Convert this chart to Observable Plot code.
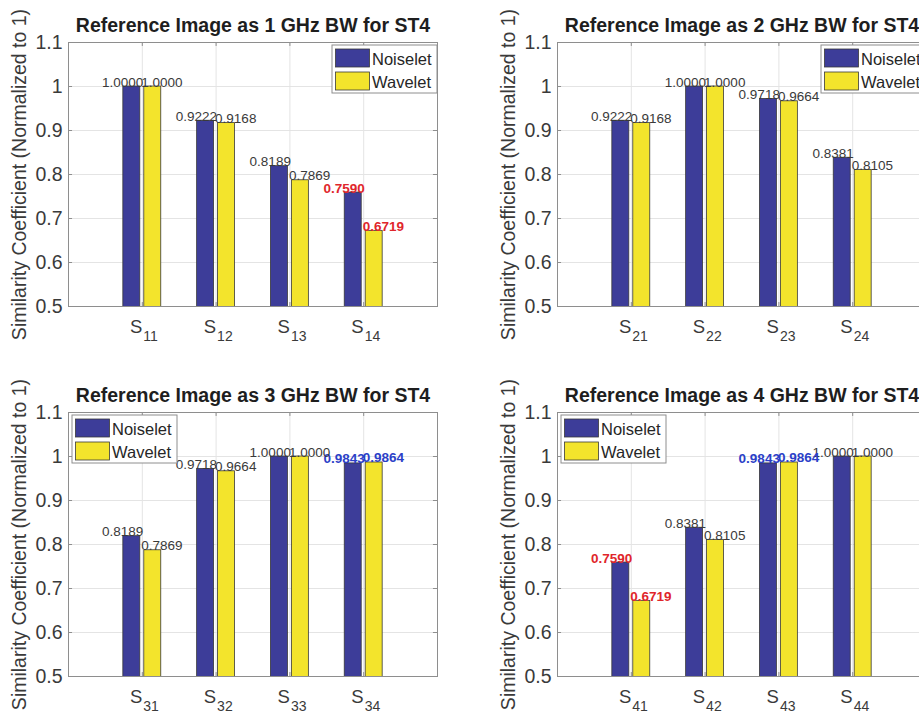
<!DOCTYPE html>
<html>
<head>
<meta charset="utf-8">
<script src="https://cdn.jsdelivr.net/npm/d3@7"></script>
<script src="https://cdn.jsdelivr.net/npm/@observablehq/plot@0.6"></script>
<style>
  html, body { margin: 0; padding: 0; background: #fff; }
  #page { position: relative; width: 919px; height: 719px; overflow: hidden; background: #fff; }
  .panel { position: absolute; width: 460px; height: 360px; }
</style>
</head>
<body>
<div id="page"></div>
<script>
// Similarity coefficients (normalized to 1) for each reference bandwidth
const series = ["Noiselet", "Wavelet"];
const seriesColors = ["#3d3d99", "#f3e42c"];
const titles = [
  "Reference Image as 1 GHz BW for ST4",
  "Reference Image as 2 GHz BW for ST4",
  "Reference Image as 3 GHz BW for ST4",
  "Reference Image as 4 GHz BW for ST4"
];
const subs1 = ["11", "12", "13", "14"];
const subs2 = ["21", "22", "23", "24"];
const subs3 = ["31", "32", "33", "34"];
const subs4 = ["41", "42", "43", "44"];

const noiselet1 = [1.0000, 0.9222, 0.8189, 0.7590];
const wavelet1  = [1.0000, 0.9168, 0.7869, 0.6719];
const noiselet2 = [0.9222, 1.0000, 0.9718, 0.8381];
const wavelet2  = [0.9168, 1.0000, 0.9664, 0.8105];
const noiselet3 = [0.8189, 0.9718, 1.0000, 0.9843];
const wavelet3  = [0.7869, 0.9664, 1.0000, 0.9864];
const noiselet4 = [0.7590, 0.8381, 0.9843, 1.0000];
const wavelet4  = [0.6719, 0.8105, 0.9864, 1.0000];

// value-label emphasis per pair: "low" (red), "high" (blue) or none
const emphasis1 = [null, null, null, "low"];
const emphasis2 = [null, null, null, null];
const emphasis3 = [null, null, null, "high"];
const emphasis4 = ["low", null, "high", null];

const yTicks = [0.5, 0.6, 0.7, 0.8, 0.9, 1.0, 1.1];
const yLabel = "Similarity Coefficient (Normalized to 1)";
const legendCorners = ["ne", "ne", "nw", "nw"];

const FONT = '"Liberation Sans", Arial, Helvetica, sans-serif';
const TEXT = "#3a3a3a";
const AXIS = "#8e8e8e";
const GRID = "#e4e4e4";
const emphColors = {low: "#e0262b", high: "#2b3fc8"};

const W = 460, H = 360;
const M = {top: 42, right: 23, bottom: 54, left: 68};

function panel({title, subs, noiselet, wavelet, emphasis, corner}) {
  const rows = [];
  subs.forEach((s, i) => {
    rows.push({cat: i + 1, sub: s, series: "Noiselet", value: noiselet[i], emph: emphasis[i]});
    rows.push({cat: i + 1, sub: s, series: "Wavelet", value: wavelet[i], emph: emphasis[i]});
  });
  const cats = subs.map((s, i) => ({cat: i + 1, sub: s}));
  const isN = d => d.series === "Noiselet";

  // value labels: Noiselet ends at the group centre, Wavelet starts there
  const labelMarks = [];
  for (const s of series) {
    for (const e of [null, "low", "high"]) {
      const data = rows.filter(d => d.series === s && d.emph === e);
      if (!data.length) continue;
      labelMarks.push(Plot.text(data, {
        x: "cat", y: "value", text: d => d.value.toFixed(4),
        textAnchor: s === "Noiselet" ? "end" : "start",
        lineAnchor: "bottom",
        dx: s === "Noiselet" ? 1 : -1,
        fontSize: 13.5,
        fontWeight: e ? "bold" : "normal",
        fill: e ? emphColors[e] : TEXT
      }));
    }
  }

  const chart = Plot.plot({
    width: W, height: H,
    marginTop: M.top, marginRight: M.right, marginBottom: M.bottom, marginLeft: M.left,
    style: {fontFamily: FONT, background: "#fff", color: TEXT, overflow: "visible"},
    x: {domain: [0, 5], axis: null},
    y: {domain: [0.5, 1.1], axis: null},
    marks: [
      Plot.gridY(yTicks, {stroke: GRID, strokeOpacity: 1}),
      Plot.gridX(cats.map(d => d.cat), {stroke: GRID, strokeOpacity: 1}),
      Plot.rectY(rows, {
        x1: d => isN(d) ? d.cat - 0.257 : d.cat + 0.027,
        x2: d => isN(d) ? d.cat - 0.027 : d.cat + 0.257,
        y1: 0, y2: "value",
        fill: d => isN(d) ? seriesColors[0] : seriesColors[1],
        stroke: "#3a3a3a", strokeWidth: 0.8,
        clip: true
      }),
      // inward ticks on all four sides
      Plot.ruleY(yTicks, {x1: 0, x2: 0.055, stroke: AXIS}),
      Plot.ruleY(yTicks, {x1: 4.945, x2: 5, stroke: AXIS}),
      Plot.ruleX(cats, {x: "cat", y1: 1.1, y2: 1.091, stroke: AXIS}),
      Plot.ruleX(cats, {x: "cat", y1: 0.5, y2: 0.509, stroke: AXIS}),
      Plot.frame({stroke: AXIS, strokeWidth: 1}),
      // y tick labels
      Plot.text(yTicks, {
        x: 0, y: d => d, text: d => d === 1 ? "1" : d.toFixed(1),
        textAnchor: "end", dx: -6, fontSize: 19.5, fill: TEXT
      }),
      // x tick labels: S with numeric subscript
      Plot.text(cats, {x: "cat", y: 0.5, text: () => "S", textAnchor: "end", lineAnchor: "bottom",
        dx: 0, dy: 26, fontSize: 18.5, fill: TEXT}),
      Plot.text(cats, {x: "cat", y: 0.5, text: "sub", textAnchor: "start", lineAnchor: "bottom",
        dx: 1, dy: 34, fontSize: 14, fill: TEXT}),
      ...labelMarks,
      // title and y-axis label
      Plot.text([title], {frameAnchor: "top", textAnchor: "middle", lineAnchor: "bottom", dy: -11,
        fontSize: 19.5, fontWeight: "bold", fill: "#1e1e1e"}),
      Plot.text([yLabel], {frameAnchor: "left", textAnchor: "middle", rotate: -90, dx: -49,
        fontSize: 19.5, fill: TEXT})
    ]
  });

  // legend box
  const svg = d3.select(chart);
  const bw = 105, bh = 48;
  const lx = corner === "ne" ? W - M.right - bw : M.left + 4;
  const ly = M.top + 3;
  const g = svg.append("g").attr("transform", `translate(${lx},${ly})`)
    .attr("font-family", FONT).attr("text-anchor", "start");
  g.append("rect").attr("width", bw).attr("height", bh)
    .attr("fill", "#fff").attr("stroke", AXIS);
  series.forEach((s, j) => {
    g.append("rect").attr("x", 3.5).attr("y", 4 + j * 23).attr("width", 34).attr("height", 18)
      .attr("fill", seriesColors[j]).attr("stroke", "#3a3a3a").attr("stroke-width", 0.8);
    g.append("text").attr("x", 40).attr("y", 20 + j * 22.5).attr("font-size", 16.5)
      .attr("text-anchor", "start").attr("fill", "#262626").text(s);
  });
  return chart;
}

const configs = [
  {subs: subs1, noiselet: noiselet1, wavelet: wavelet1, emphasis: emphasis1},
  {subs: subs2, noiselet: noiselet2, wavelet: wavelet2, emphasis: emphasis2},
  {subs: subs3, noiselet: noiselet3, wavelet: wavelet3, emphasis: emphasis3},
  {subs: subs4, noiselet: noiselet4, wavelet: wavelet4, emphasis: emphasis4}
];
const offsets = [[0, 0], [489, 0], [0, 370], [489, 370]];

const page = document.getElementById("page");
configs.forEach((c, i) => {
  const div = document.createElement("div");
  div.className = "panel";
  div.style.left = offsets[i][0] + "px";
  div.style.top = offsets[i][1] + "px";
  div.appendChild(panel({...c, title: titles[i], corner: legendCorners[i]}));
  page.appendChild(div);
});
</script>
</body>
</html>
